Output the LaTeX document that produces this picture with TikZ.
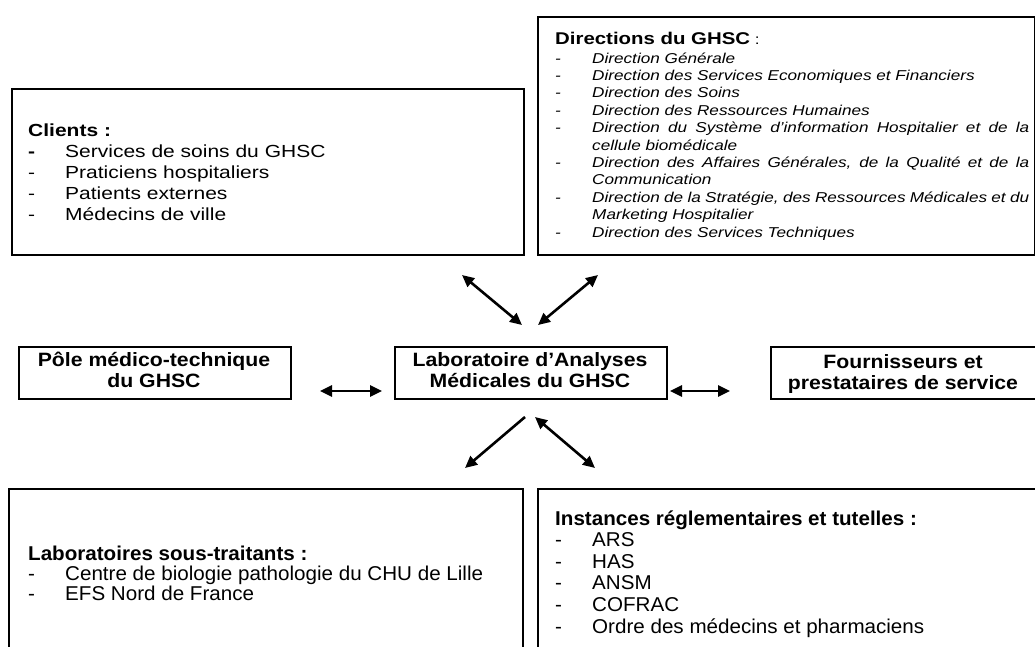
\documentclass[tikz,border=0pt]{standalone}
\usepackage{fontspec}
\setmainfont{Liberation Sans}
\newfontfamily\fwide[FakeStretch=1.2]{Liberation Sans}
\newfontfamily\fmid[FakeStretch=1.1]{Liberation Sans}
\newfontfamily\fnar[FakeStretch=1.03]{Liberation Sans}
\usetikzlibrary{arrows.meta}
\newcommand{\itm}{\makebox[37pt][l]{-}}
\begin{document}
\begin{tikzpicture}[x=1pt,y=-1pt,
  box/.style={draw=black,line width=1.6pt,inner sep=0pt,anchor=north west},
  txt/.style={inner sep=0pt,align=left,anchor=base west},
  ctxt/.style={inner sep=0pt,align=center,anchor=base,font=\fmid\bfseries\fontsize{19.3}{20.5}\selectfont},
  tipd/.style={line width=2.6pt,{Triangle[length=12pt,width=11pt]}-{Triangle[length=12pt,width=11pt]}},
  tips/.style={line width=2.6pt,-{Triangle[length=12pt,width=11pt]}}
]
\useasboundingbox (0,0) rectangle (1035,646);
% boxes
\node[box,minimum width=512pt,minimum height=166pt] (clients) at (11,88) {};
\node[box,minimum width=497pt,minimum height=238pt] (directions) at (537,16) {};
\node[box,minimum width=272pt,minimum height=52pt] (pole) at (18,346) {};
\node[box,minimum width=272pt,minimum height=52pt] (lab) at (394,346) {};
\node[box,minimum width=272pt,minimum height=52pt] (fourn) at (770,346) {};
\node[box,minimum width=514pt,minimum height=175pt] (soust) at (8,488) {};
\node[box,minimum width=510pt,minimum height=175pt] (instances) at (537,488) {};
% texts (base = baseline of last line)
\node[txt,font=\fwide\fontsize{17.5}{21}\selectfont] (tclients) at (28,220)
  {\textbf{Clients :}\\
   \makebox[37pt][l]{\textbf{-}}Services de soins du GHSC\\
   \itm Praticiens hospitaliers\\
   \itm Patients externes\\
   \itm Médecins de ville};
\node[txt,font=\fwide\fontsize{14.3}{17.4}\selectfont] (tdirections) at (555,237)
  {{\fontsize{17}{17}\selectfont\bfseries Directions du GHSC} :\\[1pt]
   \itshape\itm Direction Générale\\
   \itshape\itm Direction des Services Economiques et Financiers\\
   \itshape\itm Direction des Soins\\
   \itshape\itm Direction des Ressources Humaines\\
   \itshape\itm \hbox to 437pt{Direction du Système d’information Hospitalier et de la}\\
   \itshape\hspace*{37pt}cellule biomédicale\\
   \itshape\itm \hbox to 437pt{Direction des Affaires Générales, de la Qualité et de la}\\
   \itshape\hspace*{37pt}Communication\\
   \itshape\itm \hbox to 437pt{Direction de la Stratégie, des Ressources Médicales et du}\\
   \itshape\hspace*{37pt}Marketing Hospitalier\\
   \itshape\itm Direction des Services Techniques};
\node[ctxt] (tpole) at (154,387) {Pôle médico-technique\\du GHSC};
\node[ctxt] (tlab) at (530,387) {Laboratoire d’Analyses\\Médicales du GHSC};
\node[ctxt] (tfourn) at (903,389) {Fournisseurs et\\prestataires de service};
\node[txt,font=\fnar\fontsize{20}{20}\selectfont] (tsoust) at (28,600)
  {\textbf{Laboratoires sous-traitants :}\\
   \itm Centre de biologie pathologie du CHU de Lille\\
   \itm EFS Nord de France};
\node[txt,font=\fnar\fontsize{20}{21.6}\selectfont] (tinst) at (555,633)
  {\textbf{Instances réglementaires et tutelles :}\\
   \itm ARS\\
   \itm HAS\\
   \itm ANSM\\
   \itm COFRAC\\
   \itm Ordre des médecins et pharmaciens};
% connector ends
\coordinate (c1a) at (462,275); \coordinate (c1b) at (522,325);
\coordinate (c2a) at (598,275); \coordinate (c2b) at (538,325);
\coordinate (c3a) at (320,391); \coordinate (c3b) at (382,391);
\coordinate (c4a) at (670,391); \coordinate (c4b) at (730,391);
\coordinate (c5a) at (525,417); \coordinate (c5b) at (465,468);
\coordinate (c6a) at (535,417); \coordinate (c6b) at (595,468);
\draw[tipd] (c1a) -- (c1b);
\draw[tipd] (c2a) -- (c2b);
\draw[tipd] (c3a) -- (c3b);
\draw[tipd] (c4a) -- (c4b);
\draw[tips] (c5a) -- (c5b);
\draw[tipd] (c6a) -- (c6b);
\end{tikzpicture}
\end{document}
